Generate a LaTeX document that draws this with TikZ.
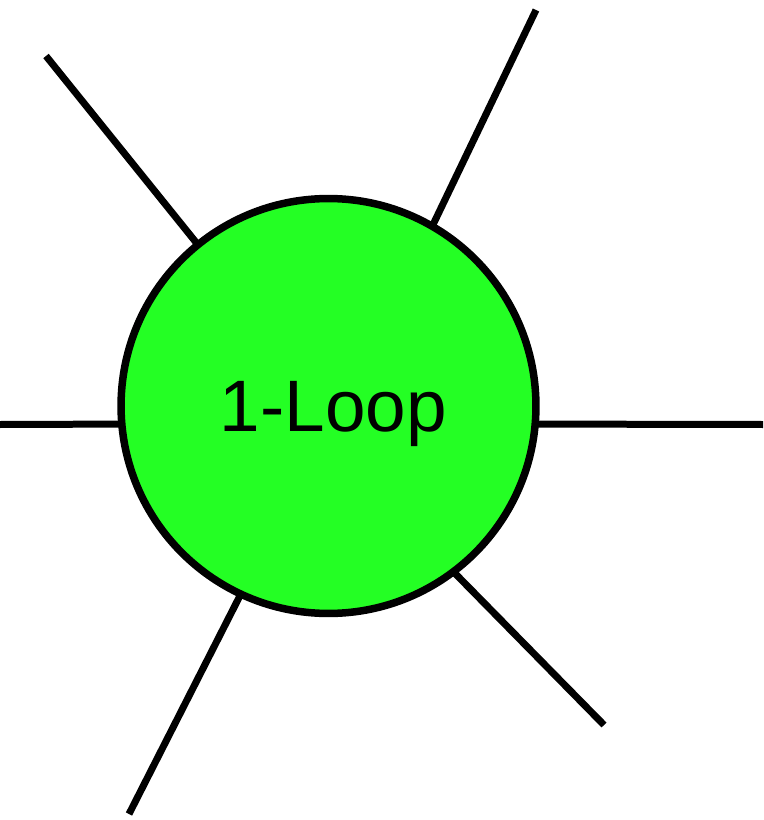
\documentclass[tikz,border=0pt]{standalone}
\usepackage{fontspec}
\setmainfont{Liberation Sans}
\usetikzlibrary{positioning}
\definecolor{loopgreen}{HTML}{24FF24}

\begin{document}
\begin{tikzpicture}[
  x=0.02cm, y=-0.02cm,
  blob/.style={draw, circle, fill=loopgreen, line width=0.15cm, inner sep=0pt, outer sep=0pt,
    minimum size=8.3cm, text depth=0pt, font=\fontsize{41.5}{50}\selectfont},
  leg/.style={line width=0.14cm}
]
\useasboundingbox (0,0) rectangle (763,820);
\node[blob] (loop) at (328.5,406) {\hspace*{0.2cm}1-Loop};
\coordinate (eL) at (0,424.5);
\coordinate (eR) at (763,424.5);
\coordinate (eUL) at (46,56);
\coordinate (eUR) at (536,10);
\coordinate (eLR) at (604,725);
\coordinate (eLL) at (129,814);
\draw[leg] (eL) -- (loop.185.1);
\draw[leg] (eR) -- (loop.-5.1);
\draw[leg] (eUL) -- (loop.129.1);
\draw[leg] (eUR) -- (loop.60.6);
\draw[leg] (eLR) -- (loop.-53.3);
\draw[leg] (eLL) -- (loop.-115);
\end{tikzpicture}
\end{document}
